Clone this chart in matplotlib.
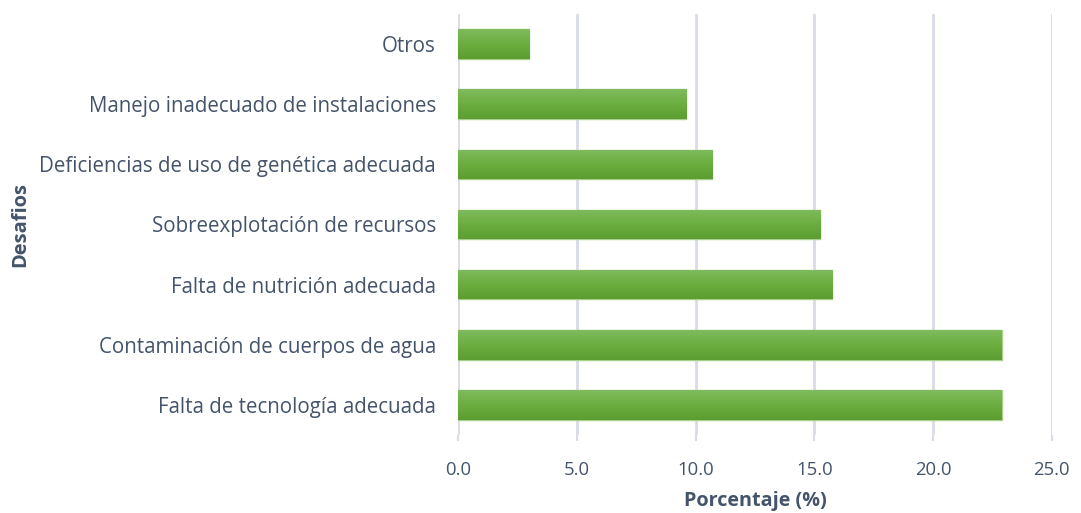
import matplotlib
matplotlib.use("Agg")
import matplotlib.pyplot as plt
import numpy as np
from matplotlib.colors import LinearSegmentedColormap

categories = [
    "Falta de tecnología adecuada",
    "Contaminación de cuerpos de agua",
    "Falta de nutrición adecuada",
    "Sobreexplotación de recursos",
    "Deficiencias de uso de genética adecuada",
    "Manejo inadecuado de instalaciones",
    "Otros",
]
values = [22.9, 22.9, 15.75, 15.25, 10.7, 9.6, 3.0]
xticks = [0, 5, 10, 15, 20, 25]
xtick_labels = ["0.0", "5.0", "10.0", "15.0", "20.0", "25.0"]

text_color = "#44546a"
grid_color = "#d9dce6"
plt.rcParams["font.family"] = ["Open Sans", "DejaVu Sans"]

fig = plt.figure(figsize=(10.81, 5.13), dpi=100)
ax = fig.add_axes([0.4237, 0.152, 0.973 - 0.4237, 0.973 - 0.152])

y = np.arange(len(categories))
bars = ax.barh(y, values, height=0.49, color="#6aaa3e", edgecolor="#a8d08d", linewidth=1.0, zorder=3)

cmap = LinearSegmentedColormap.from_list("g", ["#5c9c31", "#6bae3f", "#80bb5e"])
grad = np.linspace(0, 1, 100).reshape(-1, 1)
for b in bars:
    x0, y0 = b.get_x(), b.get_y()
    w, h = b.get_width(), b.get_height()
    im = ax.imshow(grad, cmap=cmap, aspect="auto", extent=[x0, x0 + w, y0, y0 + h],
                   origin="lower", zorder=3.5)
    im.set_clip_path(b)

ax.set_xlim(0, 25)
ax.set_ylim(-0.5, len(categories) - 0.5)
ax.set_xticks(xticks)
ax.set_xticklabels(xtick_labels)
ax.set_yticks(y)
ax.set_yticklabels(categories)

ax.grid(axis="x", color=grid_color, linewidth=2, zorder=0)
ax.set_axisbelow(True)
for s in ax.spines.values():
    s.set_visible(False)
ax.tick_params(axis="y", length=0, pad=16, labelsize=14.8, labelcolor=text_color)
ax.tick_params(axis="x", length=4, width=1.5, color=grid_color, pad=15,
               labelsize=13.3, labelcolor=text_color)

ax.set_xlabel("Porcentaje (%)", fontsize=14.2, fontweight="bold", color=text_color, labelpad=8)
ax.text(-438 / 594, 0.5, "Desafios", rotation=90, ha="center", va="center",
        transform=ax.transAxes, fontsize=14.5, fontweight="bold", color=text_color)

fig.savefig("out.png", dpi=100)
